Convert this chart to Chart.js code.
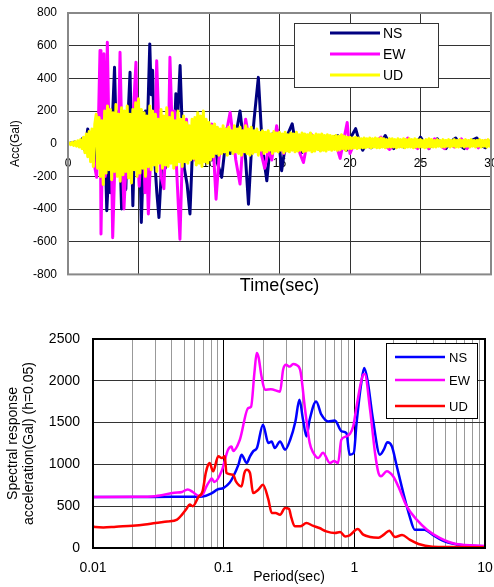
<!DOCTYPE html>
<html>
<head>
<meta charset="utf-8">
<script src="https://cdn.jsdelivr.net/npm/chart.js@4.4.1/dist/chart.umd.min.js"></script>
<style>
  html, body { margin: 0; padding: 0; background: #fff; }
  #wrap { position: relative; width: 494px; height: 587px; }
  canvas { position: absolute; left: 0; }
  #accChart { top: 0; }
  #specChart { top: 300px; }
</style>
</head>
<body>
<div id="wrap">
  <canvas id="accChart" width="494" height="297"></canvas>
  <canvas id="specChart" width="494" height="287"></canvas>
</div>
<script>
// --- accelerogram (top) ---
const DT = 0.1; // UD sampled every 0.1 s
const accTicks = { min: -800, max: 800, step: 200 };
const timeTicks = { min: 0, max: 30, step: 5 };

const nsTime = [0, 0.5, 0.8, 1.0, 1.2, 1.4, 1.6, 1.8, 2.0, 2.2,
  2.4, 2.6, 2.75, 2.9, 3.0, 3.15, 3.3, 3.45, 3.6, 3.8,
  3.95, 4.1, 4.25, 4.4, 4.6, 4.75, 4.9, 5.05, 5.2, 5.35,
  5.5, 5.65, 5.8, 5.9, 6.0, 6.15, 6.3, 6.45, 6.6, 6.75,
  6.9, 7.05, 7.2, 7.35, 7.5, 7.65, 7.8, 7.95, 8.1, 8.25,
  8.45, 8.65, 8.8, 9.0, 9.15, 9.3, 9.45, 9.6, 9.8, 10.0,
  10.2, 10.4, 10.6, 10.9, 11.1, 11.3, 11.5, 11.7, 11.9, 12.2,
  12.4, 12.6, 12.8, 13.0, 13.2, 13.5, 13.7, 13.9, 14.1, 14.3,
  14.5, 14.7, 14.9, 15.15, 15.4, 15.6, 15.9, 16.1, 16.3, 16.6,
  16.9, 17.2, 17.5, 17.9, 18.2, 18.5, 18.8, 19.15, 19.4, 19.75,
  20.0, 20.4, 20.7, 20.9, 21.2, 21.5, 21.8, 22.1, 22.5, 22.8,
  23.1, 23.4, 23.8, 24.2, 24.6, 25.0, 25.3, 25.6, 25.9, 26.2,
  26.5, 26.8, 27.1, 27.5, 27.8, 28.1, 28.5, 29.0, 29.3, 29.6,
  30.0];
const nsAcc = [0, 10, -15, 30, -40, 90, -60, 80, -120, 150,
  -250, 100, -410, -150, -300, 150, 468, -50, 200, -400,
  -100, -280, 150, 437, -380, 100, -150, 80, -482, -100,
  200, 150, 611, 300, 450, -100, -300, -452, -200, 50,
  -150, 150, -100, 100, -50, 306, 200, 478, 100, -150,
  -250, -430, -100, 100, -50, 160, 50, 170, -50, 100,
  -100, 50, -120, -206, -50, 100, -60, 100, 50, 200,
  50, -100, -370, -50, 150, 406, 100, -100, -227, -50,
  60, -20, 80, -165, -20, 60, 122, 20, -40, -53,
  20, 60, 0, -40, 30, -20, 40, 49, -10, -40,
  30, 92, 0, -40, 10, -25, 25, -15, 50, 0,
  -30, 10, -20, 15, -15, 40, 0, -30, 10, 30,
  -10, -30, 10, 35, -10, -30, 15, 35, -10, -25,
  20];

const ewTime = [0, 0.6, 1.0, 1.3, 1.5, 1.7, 1.85, 2.03, 2.15, 2.27,
  2.34, 2.45, 2.55, 2.65, 2.79, 2.95, 3.05, 3.17, 3.3, 3.45,
  3.55, 3.69, 3.85, 3.97, 4.1, 4.25, 4.4, 4.55, 4.82, 4.95,
  5.05, 5.2, 5.3, 5.46, 5.6, 5.7, 5.85, 6.0, 6.15, 6.29,
  6.45, 6.6, 6.8, 6.95, 7.1, 7.23, 7.4, 7.55, 7.7, 7.94,
  8.1, 8.25, 8.4, 8.6, 8.8, 9.0, 9.2, 9.4, 9.7, 9.9,
  10.0, 10.2, 10.35, 10.5, 10.7, 10.9, 11.1, 11.3, 11.5, 11.7,
  11.9, 12.2, 12.4, 12.6, 12.8, 13.0, 13.2, 13.4, 13.7, 13.95,
  14.2, 14.45, 14.8, 15.0, 15.3, 15.6, 15.9, 16.2, 16.45, 16.7,
  16.95, 17.3, 17.6, 17.95, 18.3, 18.6, 18.9, 19.3, 19.55, 19.8,
  20.0, 20.3, 20.6, 21.0, 21.4, 21.8, 22.2, 22.5, 22.8, 23.2,
  23.6, 24.1, 24.4, 24.8, 25.2, 25.6, 26.0, 26.4, 26.7, 27.0,
  27.4, 27.9, 28.3, 28.7, 29.1, 29.6, 30.0];
const ewAcc = [0, 5, -10, 20, -50, 60, -120, -206, 100, 570,
  -553, 0, 550, -200, 621, -150, 100, -575, -200, 150,
  -100, 560, -100, -400, -150, 100, -150, 50, 499, -100,
  -260, 0, 150, -300, -150, -430, -100, 100, -50, 508,
  100, -200, -275, 50, -100, 529, 50, 200, -150, -585,
  -100, 100, 150, -80, 50, -100, 50, -50, 120, 0,
  80, 120, -100, -340, -100, 50, -50, 100, 192, 50,
  -100, -247, 0, 150, 50, 80, -50, 60, -60, -150,
  -40, -100, 110, 0, -60, 40, -20, 30, -60, -115,
  0, 55, -10, -30, 20, -20, 30, -90, 20, 130,
  -60, 0, -20, 20, -20, 10, 40, -10, -35, 0,
  -15, 35, -5, -30, 10, -30, 30, -10, -30, 5,
  -20, 30, -30, 10, -25, 20, -10];

// UD, one row per second
const udAcc = [
  0, 4, -6, 8, -10, 12, -15, 18, -20, 25,
  -30, 40, -55, 60, -80, 75, -110, 90, -140, 120,
  180, -150, 160, -200, 140, -250, 200, -180, 230, -160,
  210, -220, 190, -170, 240, -200, 180, -230, 220, -190,
  200, -170, 230, -210, 180, -240, 210, -160, 250, -200,
  275, -180, 210, -150, 190, -200, 170, -140, 230, -160,
  200, -130, 180, -170, 150, -120, 210, -150, 170, -130,
  220, -140, 160, -120, 190, -150, 140, -130, 200, -110,
  150, -140, 170, -110, 130, -120, 110, -100, 150, -90,
  160, -130, 190, -120, 170, -140, 200, -110, 150, -120,
  130, -100, 110, -80, 120, -60, 100, -70, 90, -60,
  110, -50, 90, -70, 100, -40, 80, -60, 110, -50,
  90, -60, 100, -70, 80, -50, 110, -60, 90, -70,
  100, -60, 80, -50, 90, -70, 70, -40, 80, -60,
  70, -50, 80, -40, 60, -60, 75, -45, 65, -50,
  70, -40, 60, -55, 70, -45, 55, -50, 65, -40,
  60, -50, 70, -45, 55, -40, 65, -50, 60, -45,
  55, -40, 65, -50, 50, -45, 60, -35, 55, -45,
  60, -40, 50, -45, 55, -35, 50, -40, 45, -35,
  50, -40, 45, -35, 55, -30, 45, -40, 40, -30,
  40, -30, 35, -25, 40, -30, 35, -25, 30, -25,
  35, -25, 30, -20, 35, -25, 30, -20, 35, -25,
  30, -25, 35, -20, 30, -25, 25, -20, 30, -20,
  30, -20, 25, -25, 30, -20, 25, -20, 30, -25,
  25, -20, 30, -20, 25, -25, 30, -20, 25, -20,
  25, -20, 20, -25, 25, -20, 30, -20, 25, -20,
  20, -20, 25, -15, 20, -20, 25, -20, 20, -15,
  25, -20, 20, -15, 25, -20, 20, -20, 25, -15,
  20, -20, 25, -15, 20, -20, 25, -15, 20, -20,
  20, -15, 25, -20, 20, -15, 20, -20, 25, -15,
  20];

// --- response spectra (bottom) ---
const saTicks = { min: 0, max: 2500, step: 500 };
const periodDecades = [0.01, 0.1, 1, 10];
const periodMinor = [2, 3, 4, 5, 6, 7, 8, 9];

const nsPeriod = [0.01, 0.02, 0.04, 0.06, 0.069, 0.08, 0.09, 0.1, 0.111, 0.118,
  0.13, 0.137, 0.15, 0.159, 0.168, 0.18, 0.2, 0.22, 0.233, 0.246,
  0.27, 0.295, 0.323, 0.354, 0.38, 0.405, 0.43, 0.455, 0.51, 0.56,
  0.63, 0.71, 0.8, 0.87, 0.92, 0.99, 1.04, 1.13, 1.19, 1.26,
  1.39, 1.57, 1.68, 1.79, 1.94, 2.1, 2.37, 2.65, 2.9, 3.1,
  3.45, 3.96, 4.9, 6.8, 10];
const nsSa = [610, 610, 612, 612, 615, 650, 700, 720, 780, 850,
  1000, 1116, 1017, 1096, 1156, 1200, 1475, 1255, 1275, 1195,
  1275, 1176, 1295, 1514, 1773, 1534, 1335, 1534, 1753, 1594,
  1514, 1525, 1395, 1375, 1116, 1136, 1495, 1973, 2153, 2013,
  1534, 1116, 1176, 1265, 1215, 996, 658, 379, 219, 219,
  219, 160, 80, 32, 20];

const ewPeriod = [0.01, 0.02, 0.03, 0.042, 0.048, 0.053, 0.058, 0.064, 0.069, 0.074,
  0.078, 0.081, 0.085, 0.0965, 0.108, 0.115, 0.118, 0.133, 0.154, 0.162,
  0.172, 0.179, 0.185, 0.195, 0.207, 0.23, 0.27, 0.285, 0.3, 0.32,
  0.34, 0.36, 0.385, 0.42, 0.455, 0.485, 0.53, 0.575, 0.65, 0.7,
  0.75, 0.795, 0.87, 0.98, 1.04, 1.17, 1.2, 1.32, 1.44, 1.53,
  1.6, 1.77, 1.98, 2.17, 2.52, 3.0, 3.6, 4.5, 6.0, 10];
const ewSa = [610, 612, 620, 660, 670, 700, 670, 625, 640, 740,
  800, 830, 790, 920, 1176, 1215, 1160, 1295, 1674, 1690,
  2100, 2332, 2280, 2050, 1893, 1900, 1870, 2133, 2192, 2170,
  2200, 2190, 2130, 1654, 1259, 1140, 1076, 1140, 1017, 1040,
  1017, 1295, 1335, 1455, 1694, 2073, 2080, 1654, 1136, 897,
  857, 917, 857, 737, 498, 339, 219, 120, 48, 25];

const udPeriod = [0.01, 0.0105, 0.012, 0.015, 0.02, 0.025, 0.03, 0.037, 0.044, 0.048,
  0.052, 0.055, 0.058, 0.064, 0.069, 0.073, 0.076, 0.078, 0.083, 0.091,
  0.097, 0.102, 0.105, 0.118, 0.124, 0.137, 0.144, 0.15, 0.159, 0.168,
  0.184, 0.2, 0.22, 0.233, 0.25, 0.27, 0.295, 0.316, 0.33, 0.35,
  0.385, 0.43, 0.48, 0.54, 0.61, 0.71, 0.78, 0.85, 0.92, 1.06,
  1.17, 1.32, 1.53, 1.68, 1.85, 2.05, 2.32, 2.65, 3.1, 3.96,
  5.4, 10];
const udSa = [258, 250, 245, 255, 265, 280, 300, 318, 340, 400,
  470, 520, 500, 610, 680, 900, 996, 1017, 917, 1096,
  1076, 1096, 897, 877, 797, 737, 897, 937, 897, 658,
  697, 757, 578, 419, 419, 399, 478, 468, 359, 259,
  259, 299, 267, 239, 199, 179, 191, 139, 151, 227,
  160, 132, 124, 160, 207, 132, 155, 100, 48, 16,
  12, 8];

const FONT = "'Liberation Sans', Arial, sans-serif";
Chart.defaults.font.family = FONT;
Chart.defaults.color = '#000';

const pairs = (xs, ys) => xs.map((x, i) => ({ x: x, y: ys[i] }));
const plain = (v) => String(v);
// no extra room for half tick labels at the ends of an axis
const noEdgePad = (s) => { s.paddingLeft = 0; s.paddingRight = 0; s.paddingTop = 0; s.paddingBottom = 0; };

// frame around the plot area + boxed legend inside it
const frameLegend = {
  id: 'frameLegend',
  afterDraw(chart, args, opts) {
    const { ctx, chartArea: a } = chart;
    ctx.save();
    ctx.strokeStyle = opts.frameColor;
    ctx.lineWidth = opts.frameWidth;
    ctx.strokeRect(a.left, a.top, a.right - a.left, a.bottom - a.top);

    const L = opts.legend;
    ctx.fillStyle = '#fff';
    ctx.fillRect(L.x, L.y, L.w, L.h);
    ctx.strokeStyle = L.border;
    ctx.lineWidth = 1;
    ctx.strokeRect(L.x + 0.5, L.y + 0.5, L.w, L.h);
    ctx.font = L.font;
    ctx.textBaseline = 'middle';
    chart.data.datasets.forEach((ds, i) => {
      const y = L.rows[i];
      ctx.strokeStyle = ds.borderColor;
      ctx.lineWidth = L.lineWidth;
      ctx.beginPath();
      ctx.moveTo(L.x1, y);
      ctx.lineTo(L.x2, y);
      ctx.stroke();
      ctx.fillStyle = '#000';
      ctx.fillText(ds.label, L.textX, y + 1);
    });
    ctx.restore();
  }
};

const accLine = { borderWidth: 3, pointRadius: 0, tension: 0, fill: false, borderJoinStyle: 'round' };

new Chart(document.getElementById('accChart'), {
  type: 'line',
  data: {
    datasets: [
      { ...accLine, label: 'NS', borderColor: '#000080', order: 2, data: pairs(nsTime, nsAcc) },
      { ...accLine, label: 'EW', borderColor: '#ff00ff', order: 1, data: pairs(ewTime, ewAcc) },
      { ...accLine, label: 'UD', borderColor: '#ffff00', order: 0,
        data: udAcc.map((v, i) => ({ x: +(i * DT).toFixed(1), y: v })) }
    ]
  },
  options: {
    responsive: false,
    animation: false,
    events: [],
    layout: { autoPadding: false, padding: { top: 13, right: 3, left: 0, bottom: 0 } },
    scales: {
      x: {
        type: 'linear',
        position: { y: 0 },
        min: timeTicks.min, max: timeTicks.max,
        ticks: { stepSize: timeTicks.step, padding: 13, maxRotation: 0, font: { size: 12 }, callback: plain },
        grid: { color: '#333', drawTicks: false },
        border: { display: false },
        afterFit: noEdgePad
      },
      y: {
        min: accTicks.min, max: accTicks.max,
        ticks: { stepSize: accTicks.step, padding: 11, font: { size: 12 }, callback: plain },
        grid: { color: '#333', drawTicks: false },
        border: { display: false },
        title: { display: true, text: 'Acc(Gal)', font: { size: 12 }, padding: { top: 8, bottom: 0 } },
        afterFit(s) { noEdgePad(s); s.width = 68; }
      }
    },
    plugins: {
      legend: { display: false },
      tooltip: { enabled: false },
      title: {
        display: true, position: 'bottom', fullSize: false, text: 'Time(sec)',
        color: '#000', font: { size: 18, weight: 'normal' }, padding: { top: 1, bottom: 0 }
      },
      frameLegend: {
        frameColor: '#888', frameWidth: 2,
        legend: { x: 294, y: 23, w: 144, h: 64, border: '#333', font: '14px ' + FONT,
          x1: 330, x2: 380, textX: 383, rows: [33, 54, 75], lineWidth: 3 }
      }
    }
  },
  plugins: [frameLegend]
});

const specLine = { borderWidth: 2.5, pointRadius: 0, fill: false, cubicInterpolationMode: 'monotone' };

new Chart(document.getElementById('specChart'), {
  type: 'line',
  data: {
    datasets: [
      { ...specLine, label: 'NS', borderColor: '#0000ff', order: 2, data: pairs(nsPeriod, nsSa) },
      { ...specLine, label: 'EW', borderColor: '#ff00ff', order: 1, data: pairs(ewPeriod, ewSa) },
      { ...specLine, label: 'UD', borderColor: '#ff0000', order: 0, data: pairs(udPeriod, udSa) }
    ]
  },
  options: {
    responsive: false,
    animation: false,
    events: [],
    layout: { autoPadding: false, padding: { top: 39, right: 9, left: 0, bottom: 0 } },
    scales: {
      x: {
        type: 'logarithmic',
        min: periodDecades[0], max: periodDecades[periodDecades.length - 1],
        afterBuildTicks(s) {
          const t = [];
          periodDecades.forEach((d, i) => {
            t.push({ value: d, major: true });
            if (i < periodDecades.length - 1) periodMinor.forEach(m => t.push({ value: d * m, major: false }));
          });
          s.ticks = t;
        },
        ticks: {
          autoSkip: false, maxRotation: 0, padding: 12, font: { size: 14 },
          callback: (v) => periodDecades.includes(v) ? String(v) : ''
        },
        grid: {
          drawTicks: false,
          color: (c) => (c.tick && periodDecades.includes(c.tick.value)) ? '#000' : '#999'
        },
        border: { display: false },
        title: { display: true, text: 'Period(sec)', font: { size: 14 }, padding: { top: 0, bottom: 1 } },
        afterFit(s) { noEdgePad(s); s.height = 39; }
      },
      y: {
        min: saTicks.min, max: saTicks.max,
        ticks: { stepSize: saTicks.step, padding: 13, font: { size: 14 }, callback: plain },
        grid: { color: '#333', drawTicks: false },
        border: { display: false },
        title: {
          display: true, text: ['Spectral response', 'acceleration(Gal) (h=0.05)'],
          font: { size: 14, lineHeight: 1.15 }, padding: { top: 5, bottom: 0 }
        },
        afterFit(s) { noEdgePad(s); s.width = 93; }
      }
    },
    plugins: {
      legend: { display: false },
      tooltip: { enabled: false },
      frameLegend: {
        frameColor: '#000', frameWidth: 2,
        legend: { x: 386, y: 43, w: 91, h: 75, border: '#000', font: '13px ' + FONT,
          x1: 395, x2: 445, textX: 449, rows: [57, 80, 106], lineWidth: 2.5 }
      }
    }
  },
  plugins: [frameLegend]
});
</script>
</body>
</html>
